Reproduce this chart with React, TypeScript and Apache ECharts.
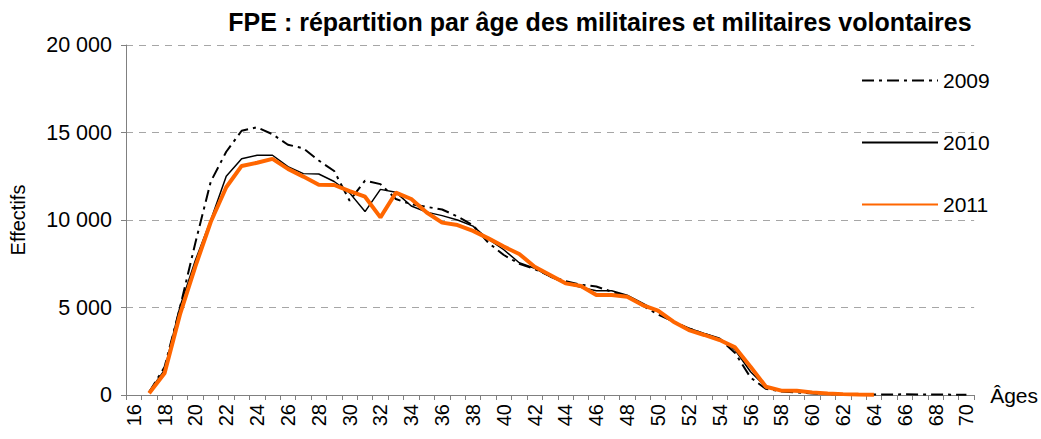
import React, { useEffect, useRef } from "react";
import * as echarts from "echarts";

const ages: string[] = [];
for (let a = 16; a <= 70; a++) ages.push(String(a));

// values indexed from age 16
const s2009: (number | null)[] = [
  null, 150, 1600, 5000, 8700, 12200, 13900, 15100, 15300, 14900, 14300, 14100, 13400, 12800, 11100,
  12250, 12050, 11200, 10900, 10750, 10600, 10200, 9700, 8700, 8000, 7500, 7200, 6800, 6500, 6300,
  6200, 5900, 5650, 5100, 4600, 4200, 3800, 3500, 3200, 2400, 1000, 350, 200, 150, 80,
  50, 40, 30, 30, 30, 40, 30, 30, 20, 20,
];
const s2010: (number | null)[] = [
  null, 190, 1430, 5050, 7700, 10000, 12500, 13500, 13700, 13700, 13050, 12650, 12630, 12200, 11550,
  10480, 11750, 11580, 10800, 10450, 10250, 10000, 9650, 8900, 8300, 7560, 7240, 6760, 6380, 6150,
  5960, 5960, 5700, 5250, 4760, 4190, 3810, 3520, 3240, 2570, 1330, 470, 250, 200, 100,
  60, 40, 20, 10,
];
const s2011: (number | null)[] = [
  null, 100, 1240, 4600, 7350, 9900, 11870, 13090, 13270, 13490, 12920, 12480, 12020, 12000, 11650,
  11330, 10150, 11560, 11200, 10430, 9850, 9710, 9380, 8950, 8480, 8060, 7330, 6860, 6380, 6230,
  5710, 5710, 5620, 5140, 4820, 4190, 3710, 3430, 3140, 2720, 1620, 470, 250, 240, 150,
  80, 50, 30, 20,
];

const FONT = "Liberation Sans, Arial, sans-serif";

export default function App() {
  const ref = useRef<HTMLDivElement>(null);
  useEffect(() => {
    if (!ref.current) return;
    const chart = echarts.init(ref.current, undefined, { renderer: "svg" });
    chart.setOption({
      animation: false,
      backgroundColor: "#ffffff",
      textStyle: { fontFamily: FONT },
      title: {
        text: "FPE : répartition par âge des militaires et militaires volontaires",
        left: 595,
        textAlign: "center",
        top: 4,
        textStyle: { fontFamily: FONT, fontSize: 25, fontWeight: "bold", color: "#000" },
      },
      legend: {
        orient: "vertical",
        left: 856,
        top: 65,
        itemWidth: 76,
        itemHeight: 14,
        itemGap: 41,
        itemStyle: { opacity: 0 },
        textStyle: { fontFamily: FONT, fontSize: 21, color: "#000" },
        data: ["2009", "2010", "2011"],
      },
      grid: { left: 123, right: 66, top: 45, bottom: 44, containLabel: false },
      xAxis: {
        type: "category",
        data: ages,
        boundaryGap: true,
        name: "Âges",
        nameLocation: "end",
        nameGap: 16,
        nameTextStyle: { fontFamily: FONT, fontSize: 21, color: "#000", verticalAlign: "middle" },
        axisLine: { lineStyle: { color: "#808080", width: 1 } },
        axisTick: { show: true, interval: 0, length: 5, lineStyle: { color: "#808080" } },
        axisLabel: {
          interval: 1,
          rotate: 90,
          margin: 9,
          fontFamily: FONT,
          fontSize: 20,
          color: "#000",
        },
        splitLine: { show: false },
      },
      yAxis: {
        type: "value",
        min: 0,
        max: 20000,
        interval: 5000,
        name: "Effectifs",
        nameLocation: "middle",
        nameGap: 98,
        nameTextStyle: { fontFamily: FONT, fontSize: 20, color: "#000" },
        axisLine: { show: true, lineStyle: { color: "#808080", width: 1 } },
        axisTick: { show: true, length: 5, lineStyle: { color: "#808080" } },
        axisLabel: {
          margin: 14,
          fontFamily: FONT,
          fontSize: 21.5,
          color: "#000",
          formatter: (v: number) => String(v).replace(/\B(?=(\d{3})+(?!\d))/g, " "),
        },
        splitLine: { show: true, lineStyle: { color: "#a6a6a6", type: [7, 6], width: 1 } },
      },
      series: [
        {
          name: "2009",
          type: "line",
          data: s2009,
          symbol: "none",
          lineStyle: { color: "#000", width: 2, type: [12, 5, 3, 5] },
          itemStyle: { color: "#000" },
        },
        {
          name: "2010",
          type: "line",
          data: s2010,
          symbol: "none",
          lineStyle: { color: "#000", width: 1.5 },
          itemStyle: { color: "#000" },
        },
        {
          name: "2011",
          type: "line",
          data: s2011,
          symbol: "none",
          lineStyle: { color: "#ff6600", width: 4 },
          itemStyle: { color: "#ff6600" },
        },
      ],
    });
    return () => chart.dispose();
  }, []);
  return (
    <div
      ref={ref}
      style={{ position: "absolute", left: 0, top: 0, width: 1041, height: 439 }}
    />
  );
}
